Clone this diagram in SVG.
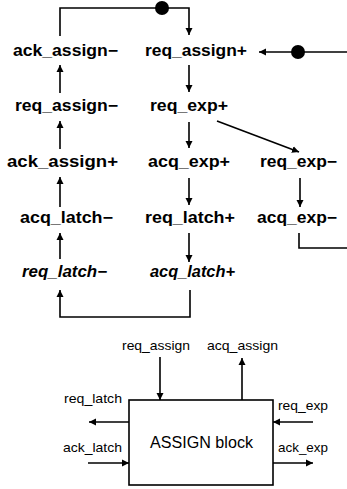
<svg xmlns="http://www.w3.org/2000/svg" width="347" height="489" viewBox="0 0 347 489">
<style>
.t{font-family:"Liberation Sans",Arial,sans-serif;font-size:16px;font-weight:bold;fill:#000}
.i{font-style:italic}
.s{font-family:"Liberation Sans",Arial,sans-serif;font-size:13px;fill:#000}
.b{font-family:"Liberation Sans",Arial,sans-serif;font-size:16px;fill:#000}
.c{fill:none;stroke:#000;stroke-width:1.6}
</style>
<defs>
<marker id="ah" markerWidth="8" markerHeight="8" refX="7" refY="4" orient="auto" markerUnits="userSpaceOnUse">
<path d="M0,0.5 L7,4 L0,7.5 Z" fill="#000"/>
</marker>
</defs>
<rect width="347" height="489" fill="#fff"/>
<g id="n_ack_assign_minus"><text class="t" x="13" y="56" textLength="105" lengthAdjust="spacingAndGlyphs">ack_assign−</text></g>
<g id="n_req_assign_plus"><text class="t" x="145" y="56" textLength="102" lengthAdjust="spacingAndGlyphs">req_assign+</text></g>
<g id="n_req_assign_minus"><text class="t" x="15" y="111" textLength="103" lengthAdjust="spacingAndGlyphs">req_assign−</text></g>
<g id="n_req_exp_plus"><text class="t" x="150" y="111" textLength="78" lengthAdjust="spacingAndGlyphs">req_exp+</text></g>
<g id="n_ack_assign_plus"><text class="t" x="7" y="167" textLength="111" lengthAdjust="spacingAndGlyphs">ack_assign+</text></g>
<g id="n_acq_exp_plus"><text class="t" x="148" y="167" textLength="82" lengthAdjust="spacingAndGlyphs">acq_exp+</text></g>
<g id="n_req_exp_minus"><text class="t" x="260" y="167" textLength="77" lengthAdjust="spacingAndGlyphs">req_exp−</text></g>
<g id="n_acq_latch_minus"><text class="t" x="20" y="223" textLength="93" lengthAdjust="spacingAndGlyphs">acq_latch−</text></g>
<g id="n_req_latch_plus"><text class="t" x="145" y="223" textLength="90" lengthAdjust="spacingAndGlyphs">req_latch+</text></g>
<g id="n_acq_exp_minus"><text class="t" x="257" y="223" textLength="80" lengthAdjust="spacingAndGlyphs">acq_exp−</text></g>
<g id="n_req_latch_minus"><text class="t i" x="22" y="277" textLength="85" lengthAdjust="spacingAndGlyphs">req_latch−</text></g>
<g id="n_acq_latch_plus"><text class="t i" x="150" y="277" textLength="85" lengthAdjust="spacingAndGlyphs">acq_latch+</text></g>
<g id="n_assign_block">
<rect x="129" y="400" width="144" height="85" fill="#fff" stroke="#000" stroke-width="1.6"/>
<text class="b" x="150" y="448" textLength="103" lengthAdjust="spacingAndGlyphs">ASSIGN block</text>
</g>
<g id="p_req_assign"><text class="s" x="122" y="350" textLength="68" lengthAdjust="spacingAndGlyphs">req_assign</text></g>
<g id="p_acq_assign"><text class="s" x="207" y="350" textLength="71" lengthAdjust="spacingAndGlyphs">acq_assign</text></g>
<g id="p_req_latch"><text class="s" x="64" y="403" textLength="58" lengthAdjust="spacingAndGlyphs">req_latch</text></g>
<g id="p_ack_latch"><text class="s" x="63" y="452" textLength="59" lengthAdjust="spacingAndGlyphs">ack_latch</text></g>
<g id="p_req_exp"><text class="s" x="278" y="410" textLength="50" lengthAdjust="spacingAndGlyphs">req_exp</text></g>
<g id="p_ack_exp"><text class="s" x="278" y="452" textLength="50" lengthAdjust="spacingAndGlyphs">ack_exp</text></g>
<g id="connectors">
<path class="c" d="M60,36 V8 H189 V35" marker-end="url(#ah)"/>
<circle cx="162" cy="8" r="7" fill="#000"/>
<path class="c" d="M347,52 H259" marker-end="url(#ah)"/>
<circle cx="298" cy="52" r="7" fill="#000"/>
<path class="c" d="M60,93 V65" marker-end="url(#ah)"/>
<path class="c" d="M60,149 V121" marker-end="url(#ah)"/>
<path class="c" d="M60,207 V177" marker-end="url(#ah)"/>
<path class="c" d="M60,259 V233" marker-end="url(#ah)"/>
<path class="c" d="M190,290 V317 H60 V290" marker-end="url(#ah)"/>
<path class="c" d="M189,65 V92" marker-end="url(#ah)"/>
<path class="c" d="M189,122 V148" marker-end="url(#ah)"/>
<path class="c" d="M189,178 V205" marker-end="url(#ah)"/>
<path class="c" d="M189,233 V262" marker-end="url(#ah)"/>
<path class="c" d="M217,121 L299,152" marker-end="url(#ah)"/>
<path class="c" d="M300,178 V207" marker-end="url(#ah)"/>
<path class="c" d="M299,233 V248 H347"/>
<path class="c" d="M160,357 V400" marker-end="url(#ah)"/>
<path class="c" d="M242,400 V358" marker-end="url(#ah)"/>
<path class="c" d="M129,422 H89" marker-end="url(#ah)"/>
<path class="c" d="M88,463 H129" marker-end="url(#ah)"/>
<path class="c" d="M313,422 H273" marker-end="url(#ah)"/>
<path class="c" d="M273,463 H313" marker-end="url(#ah)"/>
</g>
</svg>
